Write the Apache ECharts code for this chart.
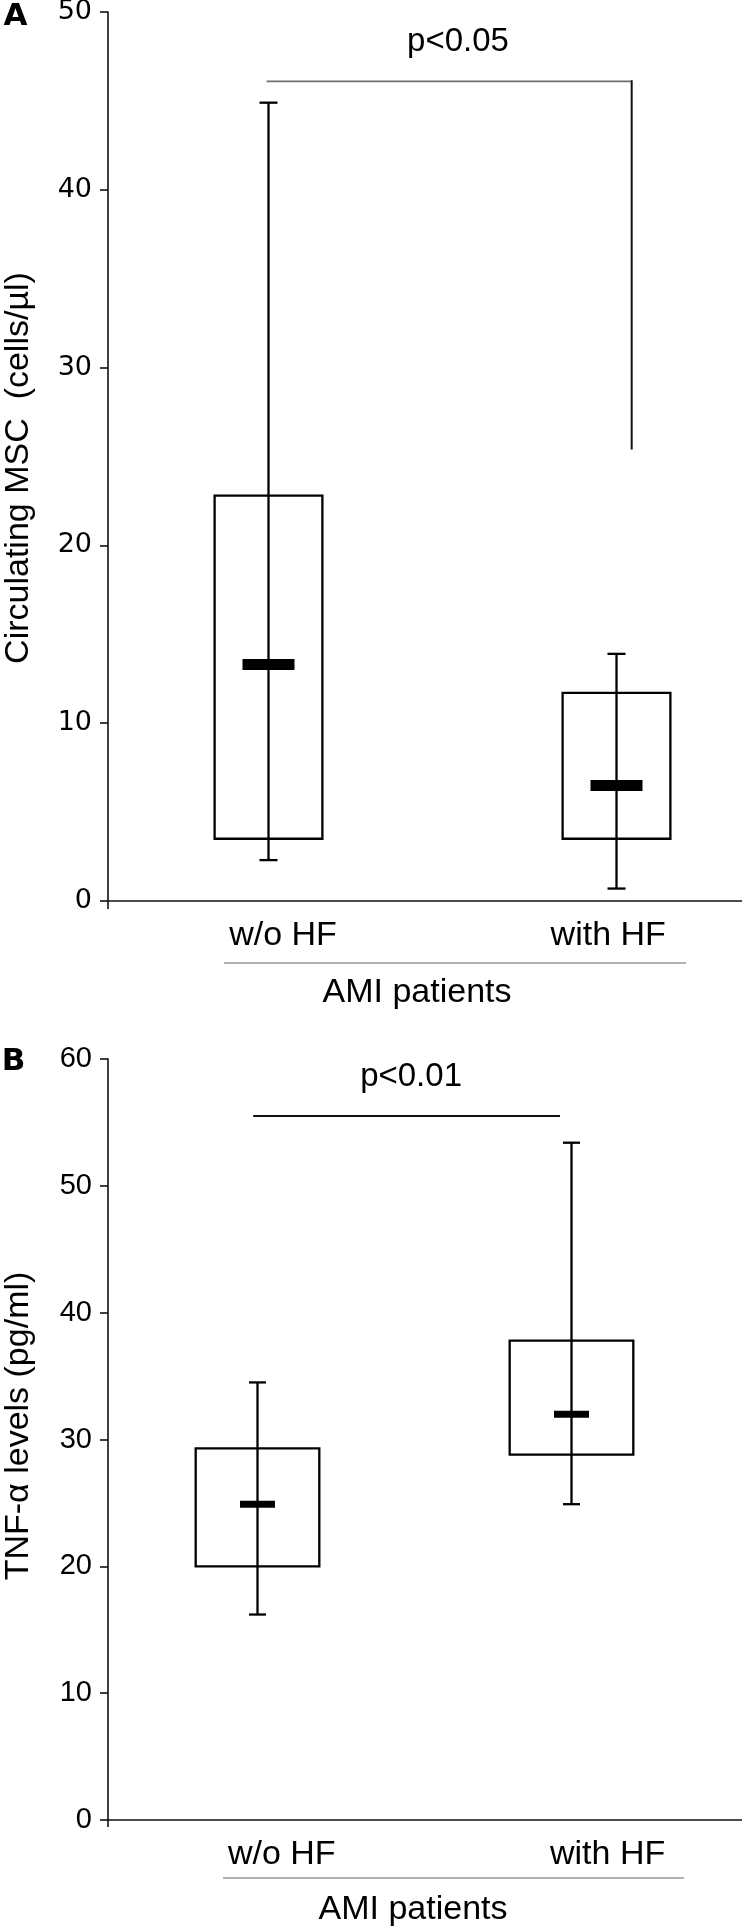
<!DOCTYPE html>
<html><head><meta charset="utf-8">
<script src="https://cdn.jsdelivr.net/npm/echarts@6/dist/echarts.min.js"></script>
<style>html,body{margin:0;padding:0;background:#fff}#c{width:742px;height:1928px}</style>
</head><body><div id="c"></div>
<script>
// ---------- data ----------
const categories = ['w/o HF', 'with HF'];
const groupLabel = 'AMI patients';

const mscMin    = [2.3, 0.7];
const mscQ1     = [3.5, 3.5];
const mscMedian = [13.3, 6.5];
const mscQ3     = [22.8, 11.7];
const mscMax    = [44.9, 13.9];
const mscTitle  = 'Circulating MSC  (cells/\u00b5l)';
const mscSig    = { text: 'p<0.05', level: 46.1, drop: 25.4 };

const tnfMin    = [16.2, 24.9];
const tnfQ1     = [20.0, 28.8];
const tnfMedian = [24.9, 32.0];
const tnfQ3     = [29.3, 37.8];
const tnfMax    = [34.5, 53.4];
const tnfTitle  = 'TNF-\u03b1 levels (pg/ml)';
const tnfSig    = { text: 'p<0.01', level: 55.5 };

const mscTicks = [0, 10, 20, 30, 40, 50];
const tnfTicks = [0, 10, 20, 30, 40, 50, 60];

// ---------- layout (x positions in a 0..100 hidden axis) ----------
const layoutA = { boxX: [25.2, 80.1], labelX: [27.6, 78.9], boxW: 17.0, medW: 52, medH: 11, capW: 18,
                  sigX1: 25.0, sigX2: 82.6, sigTextX: 55.2 };
const layoutB = { boxX: [23.5, 73.0], labelX: [27.4, 78.8], boxW: 19.5, medW: 35, medH: 7, capW: 17,
                  sigX1: 22.9, sigX2: 71.3, sigTextX: 47.8 };

const FONT = '"Liberation Sans", Arial, sans-serif';

function boxRender(L) {
  return function (params, api) {
    const x = api.value(0);
    const lo = api.coord([x, api.value(1)]);
    const q1 = api.coord([x, api.value(2)]);
    const md = api.coord([x, api.value(3)]);
    const q3 = api.coord([x, api.value(4)]);
    const hi = api.coord([x, api.value(5)]);
    const cx = Math.round(lo[0]) + 0.5;
    const bw = api.size([L.boxW, 0])[0];
    const ln = { stroke: '#000', lineWidth: 2.3 };
    return { type: 'group', children: [
      { type: 'rect', shape: { x: cx - bw / 2, y: q3[1], width: bw, height: q1[1] - q3[1] },
        style: { fill: '#fff', stroke: '#000', lineWidth: 2.3 } },
      { type: 'line', shape: { x1: cx, y1: hi[1], x2: cx, y2: lo[1] }, style: ln },
      { type: 'line', shape: { x1: cx - L.capW / 2, y1: hi[1], x2: cx + L.capW / 2, y2: hi[1] }, style: ln },
      { type: 'line', shape: { x1: cx - L.capW / 2, y1: lo[1], x2: cx + L.capW / 2, y2: lo[1] }, style: ln },
      { type: 'rect', shape: { x: cx - L.medW / 2, y: md[1] - L.medH / 2, width: L.medW, height: L.medH },
        style: { fill: '#000' } }
    ]};
  };
}

function labelRender(params, api) {
  const p = api.coord([api.value(0), api.value(1)]);
  return { type: 'text', style: { text: categories[params.dataIndex], x: p[0], y: p[1] + 35,
    align: 'center', verticalAlign: 'middle', font: '34px ' + FONT, fill: '#000' } };
}

function sigRender(sig, L) {
  return function (params, api) {
    const a = api.coord([L.sigX1, sig.level]);
    const b = api.coord([L.sigX2, sig.level]);
    const t = api.coord([L.sigTextX, sig.level]);
    const ch = [];
    if (sig.drop != null) {
      ch.push({ type: 'line', shape: { x1: a[0], y1: a[1], x2: b[0], y2: b[1] }, style: { stroke: '#707070', lineWidth: 1.6 } });
      const d = api.coord([L.sigX2, sig.drop]);
      ch.push({ type: 'line', shape: { x1: b[0], y1: b[1] - 1, x2: d[0], y2: d[1] }, style: { stroke: '#111', lineWidth: 2 } });
    } else {
      ch.push({ type: 'line', shape: { x1: a[0], y1: a[1], x2: b[0], y2: b[1] }, style: { stroke: '#111', lineWidth: 2 } });
    }
    ch.push({ type: 'text', style: { text: sig.text, x: t[0], y: t[1] - 39, align: 'center', verticalAlign: 'middle',
      font: '33px ' + FONT, fill: '#000' } });
    return { type: 'group', children: ch };
  };
}

const axisLine = { show: true, lineStyle: { color: '#111', width: 1.6 } };

const chart = echarts.init(document.getElementById('c'), null, { renderer: 'canvas' });
const option = {
  backgroundColor: '#fff',
  animation: false,
  grid: [
    { left: 108, top: 12, width: 634, height: 889, outerBoundsMode: 'none', containLabel: false },
    { left: 108, top: 1059, width: 634, height: 761, outerBoundsMode: 'none', containLabel: false }
  ],
  xAxis: [0, 1].map(i => ({ type: 'value', gridIndex: i, min: 0, max: 100,
    axisLine: axisLine, axisTick: { show: false }, axisLabel: { show: false }, splitLine: { show: false } })),
  yAxis: [
    { type: 'value', gridIndex: 0, min: mscTicks[0], max: mscTicks[mscTicks.length - 1], interval: 10,
      axisLine: axisLine, axisTick: { show: true, length: 8, lineStyle: { color: '#111', width: 1.6 } },
      axisLabel: { margin: 16, color: '#000', fontSize: 27, fontFamily: '"DejaVu Sans", Verdana, sans-serif' },
      splitLine: { show: false } },
    { type: 'value', gridIndex: 1, min: tnfTicks[0], max: tnfTicks[tnfTicks.length - 1], interval: 10,
      axisLine: axisLine, axisTick: { show: true, length: 8, lineStyle: { color: '#111', width: 1.6 } },
      axisLabel: { margin: 16, color: '#000', fontSize: 29, fontFamily: FONT },
      splitLine: { show: false } }
  ],
  series: [
    { type: 'custom', xAxisIndex: 0, yAxisIndex: 0, renderItem: boxRender(layoutA), clip: false,
      data: categories.map((c, i) => [layoutA.boxX[i], mscMin[i], mscQ1[i], mscMedian[i], mscQ3[i], mscMax[i]]) },
    { type: 'custom', xAxisIndex: 1, yAxisIndex: 1, renderItem: boxRender(layoutB), clip: false,
      data: categories.map((c, i) => [layoutB.boxX[i], tnfMin[i], tnfQ1[i], tnfMedian[i], tnfQ3[i], tnfMax[i]]) },
    { type: 'custom', xAxisIndex: 0, yAxisIndex: 0, renderItem: labelRender, clip: false,
      data: categories.map((c, i) => [layoutA.labelX[i], 0]) },
    { type: 'custom', xAxisIndex: 1, yAxisIndex: 1, renderItem: labelRender, clip: false,
      data: categories.map((c, i) => [layoutB.labelX[i], 0]) },
    { type: 'custom', xAxisIndex: 0, yAxisIndex: 0, renderItem: sigRender(mscSig, layoutA), clip: false, data: [[0, mscSig.level]] },
    { type: 'custom', xAxisIndex: 1, yAxisIndex: 1, renderItem: sigRender(tnfSig, layoutB), clip: false, data: [[0, tnfSig.level]] }
  ],
  graphic: [
    { type: 'text', x: 15.5, y: 17, style: { text: 'A', font: 'bold 31px "DejaVu Sans", sans-serif', fill: '#000', align: 'center', verticalAlign: 'middle' } },
    { type: 'text', x: 13.5, y: 1062, style: { text: 'B', font: 'bold 31px "DejaVu Sans", sans-serif', fill: '#000', align: 'center', verticalAlign: 'middle' } },
    { type: 'text', x: 19, y: 468, rotation: Math.PI / 2, style: { text: mscTitle, font: '34px ' + FONT, fill: '#000', align: 'center', verticalAlign: 'middle' } },
    { type: 'text', x: 19, y: 1426, rotation: Math.PI / 2, style: { text: tnfTitle, font: '34px ' + FONT, fill: '#000', align: 'center', verticalAlign: 'middle' } },
    { type: 'line', shape: { x1: 224, y1: 963, x2: 686, y2: 963 }, style: { stroke: '#999', lineWidth: 1.6 } },
    { type: 'line', shape: { x1: 223, y1: 1878, x2: 684, y2: 1878 }, style: { stroke: '#999', lineWidth: 1.6 } },
    { type: 'text', x: 417, y: 993, style: { text: groupLabel, font: '34px ' + FONT, fill: '#000', align: 'center', verticalAlign: 'middle' } },
    { type: 'text', x: 413, y: 1910, style: { text: groupLabel, font: '34px ' + FONT, fill: '#000', align: 'center', verticalAlign: 'middle' } },
    { type: 'line', shape: { x1: 108, y1: 901, x2: 108, y2: 909 }, style: { stroke: '#111', lineWidth: 1.6 } },
    { type: 'line', shape: { x1: 108, y1: 1820, x2: 108, y2: 1827 }, style: { stroke: '#111', lineWidth: 1.6 } }
  ]
};
chart.setOption(option);
</script>
</body></html>
